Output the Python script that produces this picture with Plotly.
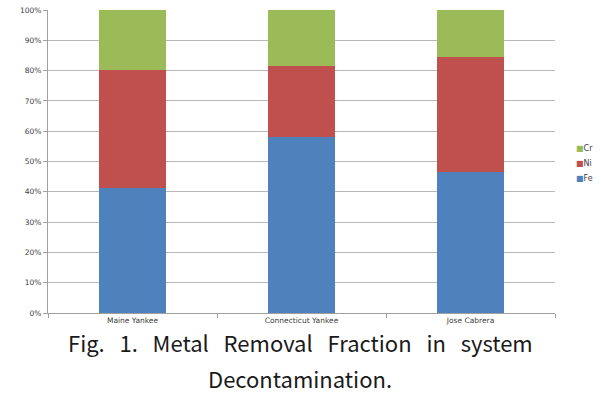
import plotly.graph_objects as go

categories = ["Maine Yankee", "Connecticut Yankee", "Jose Cabrera"]
fe = [41.3, 58.2, 46.6]
ni = [38.9, 23.4, 38.0]
cr = [19.8, 18.4, 15.4]
series_names = ["Fe", "Ni", "Cr"]
colors = ["#4F81BD", "#C0504D", "#9BBB59"]
y_ticks = list(range(0, 101, 10))
y_tick_labels = [f"{v}%" for v in y_ticks]
caption_line1 = ["Fig.", "1.", "Metal", "Removal", "Fraction", "in", "system"]
caption_line2 = "Decontamination."

fig = go.Figure()
for name, vals, col in zip(series_names, [fe, ni, cr], colors):
    fig.add_trace(go.Bar(x=categories, y=vals, name=name, marker=dict(color=col, line=dict(width=0)),
                         width=0.4, showlegend=False))

W, H = 601, 399
ml, mr, mt, mb = 48, W - 555, 10, H - 313
pw, ph = W - ml - mr, H - mt - mb

def px(x):
    return (x - ml) / pw

def py(y):
    return (H - mb - y) / ph

fig.update_layout(
    width=W, height=H, barmode="stack",
    margin=dict(l=ml, r=mr, t=mt, b=mb, autoexpand=False),
    plot_bgcolor="white", paper_bgcolor="white",
    font=dict(family="DejaVu Sans", size=7, color="#404040"),
)
fig.update_yaxes(range=[0, 100], tickvals=y_ticks, ticktext=y_tick_labels,
                 showgrid=True, gridcolor="#B8B8B8", gridwidth=1,
                 showline=True, linecolor="#A0A0A0", linewidth=1,
                 ticks="outside", ticklen=4, tickcolor="#A0A0A0",
                 tickfont=dict(size=7.5, color="#404040"), zeroline=False)
fig.update_xaxes(showline=True, linecolor="#A0A0A0", linewidth=1,
                 ticks="outside", ticklen=4, tickcolor="#A0A0A0", tickson="boundaries",
                 tickfont=dict(size=7.5, color="#404040"))

# legend as annotations (Cr top)
leg_y = [178, 163, 148]
for name, col, yy in zip(series_names, colors, leg_y):
    fig.add_annotation(xref="paper", yref="paper",
                       x=px(574), y=py(yy),
                       xanchor="left", yanchor="middle", showarrow=False,
                       text=f'<span style="color:{col}">■</span>{name}',
                       font=dict(size=8, color="#404040", family="DejaVu Sans"))

# caption
cap_font = dict(family="Noto Sans CJK KR", size=22, color="#1a1a1a")
line1 = "   ".join(caption_line1)
fig.add_annotation(xref="paper", yref="paper", x=px(300),
                   y=py(342), xanchor="center", yanchor="middle",
                   showarrow=False, text=line1.replace(" ", "&nbsp;"), font=cap_font)
fig.add_annotation(xref="paper", yref="paper", x=px(300),
                   y=py(378), xanchor="center", yanchor="middle",
                   showarrow=False, text=caption_line2, font=cap_font)

fig.write_html("out.html", config={"displayModeBar": False},
               post_script="document.body.style.margin='0';document.body.style.overflow='hidden';")
